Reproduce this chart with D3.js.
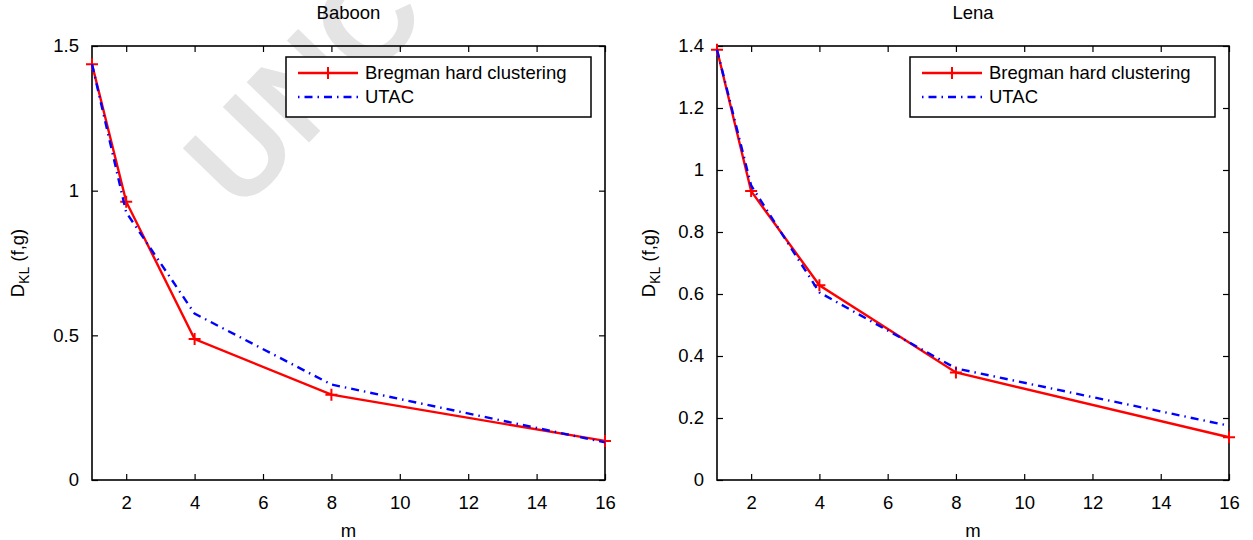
<!DOCTYPE html>
<html>
<head>
<meta charset="utf-8">
<script src="https://cdn.jsdelivr.net/npm/d3@7"></script>
<style>
  body { margin: 0; background: #fff; }
  text { font-family: "Liberation Sans", Arial, sans-serif; fill: #000; }
</style>
</head>
<body>
<svg id="chart" width="1253" height="540"></svg>
<script>
var mValues = [1, 2, 4, 8, 16]
var baboonBregman = [1.437, 0.962, 0.487, 0.295, 0.135]
var baboonUtac    = [1.437, 0.925, 0.575, 0.330, 0.130]
var lenaBregman   = [1.388, 0.932, 0.628, 0.347, 0.138]
var lenaUtac      = [1.388, 0.950, 0.605, 0.360, 0.175]
var xTicks = [2, 4, 6, 8, 10, 12, 14, 16]
var baboonYTicks = [0, 0.5, 1, 1.5]
var lenaYTicks = [0, 0.2, 0.4, 0.6, 0.8, 1, 1.2, 1.4]
var legendLabels = ['Bregman hard clustering', 'UTAC']

var fs = '18.5px'
var svg = d3.select('#chart')

// watermark behind everything
svg.append('text')
    .attr('transform', 'translate(240,214) rotate(-46)')
    .style('font-size', '126px')
    .style('font-weight', 'bold')
    .style('fill', '#e4e4e5')
    .text('UNCO')

function panel(left, right, title, yMax, yTicks, fmt, bregman, utac, labelX){
  var top = 46, bottom = 480
  var x = d3.scaleLinear().domain([1, 16]).range([left, right])
  var y = d3.scaleLinear().domain([0, yMax]).range([bottom, top])
  var g = svg.append('g')

  // ticks inside on all four sides
  g.append('g').attr('transform', 'translate(0,' + bottom + ')')
      .call(d3.axisBottom(x).tickValues(xTicks).tickSizeInner(-6).tickSizeOuter(0).tickPadding(16))
  g.append('g').attr('transform', 'translate(0,' + top + ')')
      .call(d3.axisTop(x).tickValues(xTicks).tickSizeInner(-6).tickSizeOuter(0).tickFormat(''))
  g.append('g').attr('transform', 'translate(' + left + ',0)')
      .call(d3.axisLeft(y).tickValues(yTicks).tickFormat(fmt).tickSizeInner(-6).tickSizeOuter(0).tickPadding(13))
  g.append('g').attr('transform', 'translate(' + right + ',0)')
      .call(d3.axisRight(y).tickValues(yTicks).tickSizeInner(-6).tickSizeOuter(0).tickFormat(''))
  g.selectAll('.domain').remove()
  g.selectAll('.tick line').attr('stroke', '#000').attr('stroke-width', 1.2)
  g.selectAll('.tick text').style('font-size', fs).attr('fill', '#000')

  g.append('rect')
      .attr('x', left).attr('y', top)
      .attr('width', right - left).attr('height', bottom - top)
      .attr('fill', 'none').attr('stroke', '#000').attr('stroke-width', 1.6)

  var line = d3.line().x(function(d, i){ return x(mValues[i]) }).y(function(d){ return y(d) })

  g.append('path').datum(bregman)
      .attr('d', line).attr('fill', 'none')
      .attr('stroke', '#ff0000').attr('stroke-width', 2.4)
  g.selectAll('.plus').data(bregman).enter().append('path')
      .attr('d', function(d, i){
        var cx = x(mValues[i]), cy = y(d)
        return 'M' + (cx - 6) + ',' + cy + 'H' + (cx + 6) + 'M' + cx + ',' + (cy - 6) + 'V' + (cy + 6)
      })
      .attr('stroke', '#ff0000').attr('stroke-width', 2)

  g.append('path').datum(utac)
      .attr('d', line).attr('fill', 'none')
      .attr('stroke', '#0000ff').attr('stroke-width', 2.4)
      .attr('stroke-dasharray', '8,5,1.5,5')

  // title and axis labels
  g.append('text').attr('x', (left + right) / 2).attr('y', 19)
      .attr('text-anchor', 'middle').style('font-size', fs).text(title)
  g.append('text').attr('x', (left + right) / 2).attr('y', 537)
      .attr('text-anchor', 'middle').style('font-size', fs).text('m')
  var yl = g.append('text')
      .attr('transform', 'translate(' + labelX + ',263) rotate(-90)')
      .attr('text-anchor', 'middle').style('font-size', fs)
  yl.append('tspan').text('D')
  yl.append('tspan').attr('dy', 5).style('font-size', '14px').text('KL')
  yl.append('tspan').attr('dy', -5).text(' (f,g)')

  // legend
  var lx = right - 319, ly = 57
  var lg = g.append('g')
  lg.append('rect').attr('x', lx).attr('y', ly).attr('width', 305).attr('height', 60)
      .attr('fill', '#fff').attr('stroke', '#000').attr('stroke-width', 1.5)
  lg.append('line').attr('x1', lx + 12).attr('x2', lx + 72).attr('y1', ly + 16).attr('y2', ly + 16)
      .attr('stroke', '#ff0000').attr('stroke-width', 2.4)
  lg.append('path')
      .attr('d', 'M' + (lx + 36) + ',' + (ly + 16) + 'H' + (lx + 48) + 'M' + (lx + 42) + ',' + (ly + 10) + 'V' + (ly + 22))
      .attr('stroke', '#ff0000').attr('stroke-width', 2)
  lg.append('line').attr('x1', lx + 12).attr('x2', lx + 72).attr('y1', ly + 40).attr('y2', ly + 40)
      .attr('stroke', '#0000ff').attr('stroke-width', 2.4).attr('stroke-dasharray', '1.5,5,8,5')
  lg.selectAll('.lt').data(legendLabels).enter().append('text')
      .attr('x', lx + 79).attr('y', function(d, i){ return ly + 22 + i * 24 })
      .style('font-size', fs).text(function(d){ return d })
}

panel(92, 605, 'Baboon', 1.5, baboonYTicks, function(d){ return d === 0 ? '0' : String(d) }, baboonBregman, baboonUtac, 24)
panel(717, 1229, 'Lena', 1.4, lenaYTicks, function(d){ return String(d) }, lenaBregman, lenaUtac, 655)
</script>
</body>
</html>
